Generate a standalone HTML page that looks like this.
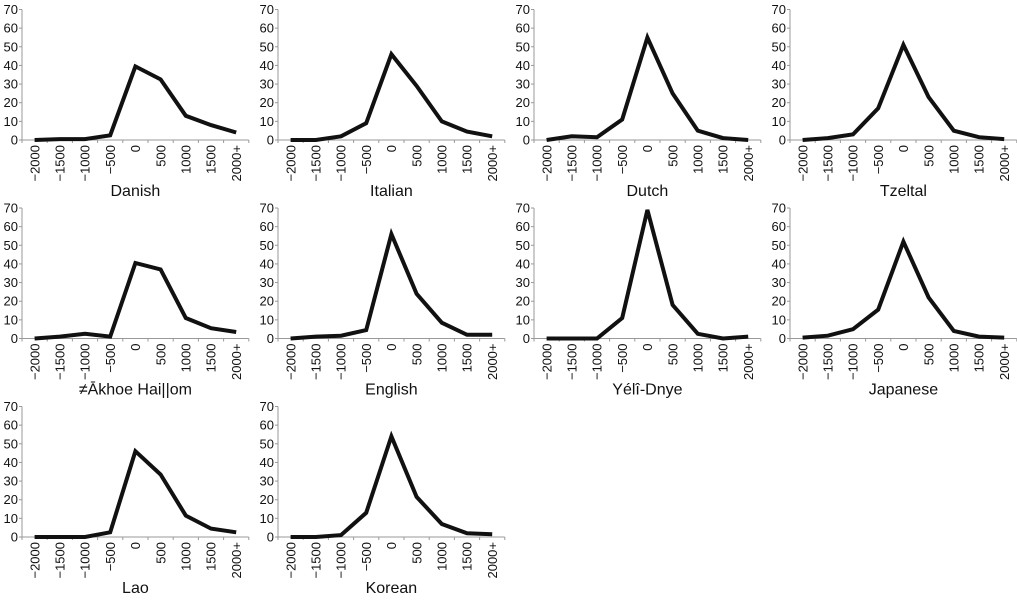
<!DOCTYPE html>
<html><head><meta charset="utf-8"><style>
html,body{margin:0;padding:0;background:#fff;}
svg{display:block;font-family:"Liberation Sans",Arial,sans-serif;}
</style></head><body>
<svg id="chart" width="1017" height="604" xmlns="http://www.w3.org/2000/svg"></svg>
<script>
const categories = ["\u22122000","\u22121500","\u22121000","\u2212500","0","500","1000","1500","2000+"];
const yTicks = [0,10,20,30,40,50,60,70];
const languages = ["Danish","Italian","Dutch","Tzeltal","\u2260\u0100khoe Hai||om","English","Y\u00e9l\u00ee-Dnye","Japanese","Lao","Korean"];
const danish   = [0,0.5,0.5,2.5,39.5,32.5,13,8,4];
const italian  = [0,0,2,9,46,29,10,4.5,2];
const dutch    = [0,2,1.5,11,55,25,5,1,0];
const tzeltal  = [0,1,3,17,51,23,5,1.5,0.5];
const akhoe    = [0,1,2.5,1,40.5,37,11,5.5,3.5];
const english  = [0,1,1.5,4.5,56,24,8.5,2,2];
const yeli     = [0,0,0,11,69,18,2.5,0,1];
const japanese = [0.5,1.5,5,15.5,52,22,4,1,0.5];
const lao      = [0,0,0,2.5,46,33.5,11.5,4.5,2.5];
const korean   = [0,0,1,13,54,21.5,7,2,1.5];
const series = [danish,italian,dutch,tzeltal,akhoe,english,yeli,japanese,lao,korean];

const NS="http://www.w3.org/2000/svg";
const svg=document.getElementById('chart');
function mk(tag,attrs,parent){const e=document.createElementNS(NS,tag);for(const k in attrs)e.setAttribute(k,attrs[k]);parent.appendChild(e);return e;}
const step=25.2, plotH=130.5, yMax=70;
series.forEach((vals,i)=>{
  const col=i%4,row=Math.floor(i/4);
  const ax=22+col*256, base=140+row*198.5;
  const xS=j=>ax+step*(j+0.5);
  const yS=v=>base-v/yMax*plotH;
  const g=mk('g',{},svg);
  
  
  const ya=mk('line',{x1:ax,y1:yS(yMax),x2:ax,y2:base,stroke:'#999','stroke-width':1},g);
  
  
  const xa=mk('line',{x1:ax,y1:base,x2:ax+step*categories.length,y2:base,stroke:'#999','stroke-width':1},g);
  
  
  yTicks.forEach(t=>{
    mk('line',{x1:ax-3,y1:yS(t),x2:ax,y2:yS(t),stroke:'#999'},g);
    const tx=mk('text',{x:ax-4,y:yS(t)+4.5,'text-anchor':'end','font-size':13,fill:'#111'},g);
    tx.textContent=t;
    
    
  });
  for(let j=0;j<=categories.length;j++) mk('line',{x1:ax+step*j,y1:base,x2:ax+step*j,y2:base+3,stroke:'#999'},g);
  categories.forEach((c,j)=>{
    const tx=mk('text',{transform:`translate(${xS(j)+4.7},${base+5}) rotate(-90)`,'text-anchor':'end','font-size':13,fill:'#111'},g);
    tx.textContent=c;
    
    
  });
  const pts=vals.map((v,j)=>xS(j).toFixed(1)+','+yS(v).toFixed(1)).join(' ');
  const pl=mk('polyline',{points:pts,fill:'none',stroke:'#111','stroke-width':4,'stroke-linejoin':'miter'},g);
  
  
  const tt=mk('text',{x:xS(4),y:base+56,'text-anchor':'middle','font-size':16,fill:'#111'},g);
  tt.textContent=languages[i];
  
  
});
</script>
</body></html>
